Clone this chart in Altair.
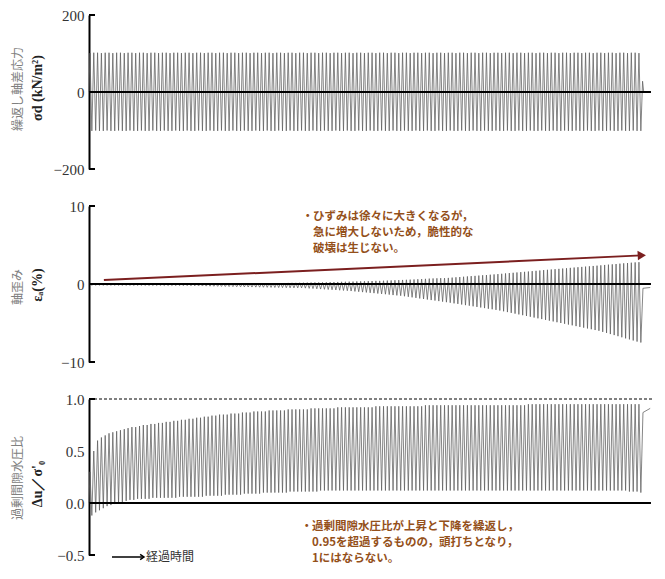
import altair as alt
import pandas as pd

N_CYCLES = 145

stress_max = [
    101,102,102,101,102,102,101,102,102,101,
    102,102,101,102,102,101,102,102,101,102,
    102,101,102,102,101,102,102,101,102,102,
    101,102,102,101,102,102,101,102,102,101,
    102,102,101,102,102,101,102,102,101,102,
    102,101,102,102,101,102,102,101,102,102,
    101,102,102,101,102,102,101,102,102,101,
    102,102,101,102,102,101,102,102,101,102,
    102,101,102,102,101,102,102,101,102,102,
    101,102,102,101,102,102,101,102,102,101,
    102,102,101,102,102,101,102,102,101,102,
    102,101,102,102,101,102,102,101,102,102,
    101,102,102,101,102,102,101,102,102,101,
    102,102,101,102,102,101,102,102,101,102,
    102,101,102,102,101]
stress_min = [
    -101,-100,-101,-101,-100,-101,-101,-100,-101,-101,
    -100,-101,-101,-100,-101,-101,-100,-101,-101,-100,
    -101,-101,-100,-101,-101,-100,-101,-101,-100,-101,
    -101,-100,-101,-101,-100,-101,-101,-100,-101,-101,
    -100,-101,-101,-100,-101,-101,-100,-101,-101,-100,
    -101,-101,-100,-101,-101,-100,-101,-101,-100,-101,
    -101,-100,-101,-101,-100,-101,-101,-100,-101,-101,
    -100,-101,-101,-100,-101,-101,-100,-101,-101,-100,
    -101,-101,-100,-101,-101,-100,-101,-101,-100,-101,
    -101,-100,-101,-101,-100,-101,-101,-100,-101,-101,
    -100,-101,-101,-100,-101,-101,-100,-101,-101,-100,
    -101,-101,-100,-101,-101,-100,-101,-101,-100,-101,
    -101,-100,-101,-101,-100,-101,-101,-100,-101,-101,
    -100,-101,-101,-100,-101,-101,-100,-101,-101,-100,
    -101,-101,-100,-101,-101]
stress_tail_t = [145.2, 145.5]
stress_tail_v = [28, 0]

strain_max = [
    0.00,0.00,0.01,0.01,0.01,0.01,0.02,0.02,0.02,0.02,
    0.02,0.02,0.02,0.03,0.03,0.03,0.03,0.03,0.03,0.03,
    0.03,0.04,0.04,0.04,0.04,0.04,0.04,0.04,0.05,0.05,
    0.05,0.05,0.05,0.05,0.05,0.05,0.05,0.05,0.05,0.05,
    0.05,0.06,0.06,0.07,0.08,0.08,0.09,0.10,0.11,0.12,
    0.12,0.13,0.14,0.15,0.15,0.16,0.17,0.18,0.19,0.20,
    0.20,0.21,0.22,0.24,0.25,0.26,0.28,0.29,0.30,0.31,
    0.33,0.34,0.35,0.37,0.38,0.40,0.40,0.42,0.44,0.46,
    0.48,0.50,0.52,0.54,0.56,0.58,0.61,0.63,0.66,0.69,
    0.71,0.73,0.75,0.75,0.78,0.82,0.86,0.89,0.93,0.97,
    1.01,1.04,1.08,1.12,1.15,1.19,1.23,1.27,1.31,1.36,
    1.40,1.44,1.48,1.52,1.56,1.60,1.65,1.69,1.73,1.78,
    1.82,1.86,1.90,1.94,1.98,2.02,2.07,2.11,2.15,2.19,
    2.23,2.27,2.31,2.35,2.39,2.44,2.48,2.52,2.56,2.61,
    2.65,2.69,2.73,2.77,2.80]
strain_min = [
    -0.15,-0.15,-0.15,-0.16,-0.16,-0.16,-0.16,-0.17,-0.17,-0.17,
    -0.17,-0.18,-0.18,-0.18,-0.18,-0.19,-0.19,-0.19,-0.19,-0.20,
    -0.20,-0.20,-0.21,-0.21,-0.22,-0.22,-0.23,-0.24,-0.25,-0.26,
    -0.27,-0.28,-0.29,-0.30,-0.31,-0.32,-0.33,-0.34,-0.35,-0.36,
    -0.37,-0.38,-0.39,-0.40,-0.41,-0.42,-0.43,-0.44,-0.45,-0.46,
    -0.47,-0.48,-0.49,-0.50,-0.50,-0.50,-0.53,-0.56,-0.59,-0.62,
    -0.65,-0.68,-0.71,-0.74,-0.77,-0.80,-0.83,-0.86,-0.90,-0.95,
    -0.99,-1.04,-1.08,-1.13,-1.17,-1.22,-1.27,-1.31,-1.36,-1.42,
    -1.46,-1.50,-1.57,-1.64,-1.71,-1.78,-1.85,-1.92,-1.99,-2.06,
    -2.12,-2.19,-2.26,-2.33,-2.40,-2.48,-2.55,-2.63,-2.71,-2.78,
    -2.86,-2.94,-3.01,-3.09,-3.17,-3.24,-3.32,-3.40,-3.50,-3.60,
    -3.70,-3.80,-3.90,-4.00,-4.10,-4.20,-4.30,-4.40,-4.50,-4.60,
    -4.70,-4.80,-4.90,-5.00,-5.10,-5.20,-5.30,-5.40,-5.50,-5.60,
    -5.70,-5.80,-5.90,-6.00,-6.14,-6.28,-6.42,-6.55,-6.69,-6.83,
    -6.97,-7.10,-7.24,-7.38,-7.50]
strain_tail_t = [145.3, 147.2]
strain_tail_v = [-0.55, -0.45]

pore_max = [
    0.30,0.50,0.60,0.63,0.65,0.67,0.68,0.69,0.70,0.71,
    0.72,0.73,0.73,0.74,0.75,0.75,0.76,0.76,0.77,0.77,
    0.78,0.78,0.79,0.79,0.80,0.80,0.81,0.81,0.82,0.82,
    0.83,0.83,0.84,0.84,0.85,0.85,0.85,0.86,0.86,0.86,
    0.87,0.87,0.87,0.88,0.88,0.88,0.88,0.89,0.89,0.89,
    0.89,0.89,0.90,0.90,0.90,0.90,0.90,0.90,0.91,0.91,
    0.91,0.91,0.91,0.91,0.91,0.92,0.92,0.92,0.92,0.92,
    0.92,0.92,0.92,0.92,0.92,0.93,0.93,0.93,0.93,0.93,
    0.93,0.93,0.93,0.93,0.93,0.93,0.93,0.93,0.94,0.94,
    0.94,0.94,0.94,0.94,0.94,0.94,0.94,0.94,0.94,0.94,
    0.94,0.94,0.94,0.94,0.94,0.94,0.94,0.94,0.94,0.94,
    0.94,0.94,0.94,0.94,0.94,0.95,0.95,0.95,0.95,0.95,
    0.95,0.95,0.95,0.95,0.95,0.95,0.95,0.95,0.95,0.95,
    0.95,0.95,0.95,0.95,0.95,0.95,0.95,0.95,0.95,0.95,
    0.95,0.95,0.95,0.95,0.95]
pore_min = [
    -0.12,-0.09,-0.07,-0.05,-0.03,-0.02,-0.01,0.00,0.01,0.02,
    0.03,0.03,0.04,0.04,0.04,0.04,0.05,0.05,0.05,0.05,
    0.05,0.05,0.05,0.06,0.06,0.06,0.06,0.06,0.06,0.06,
    0.07,0.07,0.07,0.07,0.07,0.08,0.08,0.08,0.08,0.08,
    0.09,0.09,0.09,0.09,0.09,0.10,0.10,0.10,0.10,0.10,
    0.10,0.10,0.11,0.11,0.11,0.11,0.11,0.11,0.11,0.11,
    0.12,0.12,0.12,0.12,0.12,0.12,0.12,0.12,0.12,0.12,
    0.12,0.12,0.12,0.12,0.12,0.12,0.12,0.12,0.12,0.12,
    0.12,0.12,0.12,0.12,0.12,0.12,0.12,0.12,0.12,0.12,
    0.12,0.12,0.12,0.12,0.12,0.12,0.12,0.12,0.12,0.12,
    0.12,0.12,0.12,0.12,0.12,0.12,0.12,0.12,0.12,0.12,
    0.12,0.12,0.12,0.12,0.12,0.12,0.12,0.12,0.12,0.12,
    0.12,0.12,0.12,0.12,0.12,0.12,0.12,0.12,0.12,0.12,
    0.12,0.12,0.12,0.12,0.12,0.12,0.12,0.12,0.12,0.12,
    0.12,0.11,0.11,0.11,0.10]
pore_tail_t = [145.3, 147.2]
pore_tail_v = [0.87, 0.91]

# annotation arrow in strain panel (cycle, strain %)
arrow_t = [3.9, 145.0]
arrow_v = [0.5, 3.67]

note_strain_first = "ひずみは徐々に大きくなるが，"
note_strain_rest = ["急に増大しないため，脆性的な", "破壊は生じない。"]
note_pore_first = "過剰間隙水圧比が上昇と下降を繰返し，"
note_pore_rest = ["0.95を超過するものの，頭打ちとなり，", "1にはならない。"]

H1, H2, H3 = 154, 156, 156
GAP = 37
W = 565
X_MAX = W / 3.8125
SIG = "#5e5e5e"
NOTE = "#94501a"
SERIF = "Liberation Serif"
JP = "Noto Sans CJK JP"
NOTE_FS = 11.5


def zigzag(mx, mn, tt, tv):
    rows = [{"t": 0.0, "v": 0.0}]
    for i, (a, b) in enumerate(zip(mx, mn)):
        rows.append({"t": i + 0.25, "v": a})
        rows.append({"t": i + 0.75, "v": b})
    for t, v in zip(tt, tv):
        rows.append({"t": t, "v": v})
    return pd.DataFrame(rows)


def panel(df, dom, ticks, fmt, h, titles, title_cy):
    xs = alt.Scale(domain=[0, X_MAX], nice=False, zero=False)
    ys = alt.Scale(domain=dom, nice=False, zero=False)
    line = alt.Chart(df).mark_line(color=SIG, strokeWidth=0.75).encode(
        x=alt.X("t:Q", scale=xs, axis=None),
        y=alt.Y("v:Q", scale=ys, title=None,
                axis=alt.Axis(values=ticks, format=fmt, ticks=False, grid=False,
                              domainColor="black", domainWidth=2, labelOverlap=False,
                              labelFont=SERIF, labelFontSize=15, labelColor="#333",
                              labelPadding=5, labelFlush=False)),
        order="t:Q")
    zero = alt.Chart(pd.DataFrame({"t": [0.0], "t2": [147.4], "v": [0.0]})).mark_rule(
        color="black", strokeWidth=2).encode(x=alt.X("t:Q", scale=xs), x2="t2", y=alt.Y("v:Q", scale=ys))
    stub_top = alt.Chart(pd.DataFrame({"a": [0]})).mark_rule(color="black", strokeWidth=2).encode(
        x=alt.value(0), x2=alt.value(6), y=alt.value(0))
    stub_bot = alt.Chart(pd.DataFrame({"a": [0]})).mark_rule(color="black", strokeWidth=2).encode(
        x=alt.value(0), x2=alt.value(6), y=alt.value(h))
    t1 = alt.Chart(pd.DataFrame({"s": [titles[0]]})).mark_text(
        angle=270, font=JP, fontSize=12, color="#808080").encode(
        text="s:N", x=alt.value(-71), y=alt.value(title_cy[0]))
    t2 = alt.Chart(pd.DataFrame({"s": [titles[1]]})).mark_text(
        angle=270, font=SERIF, fontSize=14, fontWeight="bold", color="#222").encode(
        text="s:N", x=alt.value(-51), y=alt.value(title_cy[1]))
    return [line, zero, stub_top, stub_bot, t1, t2], xs, ys


def note(first, rest, x0, ys_):
    bullet = alt.Chart(pd.DataFrame({"s": ["・"]})).mark_text(
        align="left", baseline="middle", font=JP, fontSize=NOTE_FS, fontWeight="bold", color=NOTE).encode(
        text="s:N", x=alt.value(x0), y=alt.value(ys_[0]))
    l1 = alt.Chart(pd.DataFrame({"s": [first]})).mark_text(
        align="left", baseline="middle", font=JP, fontSize=NOTE_FS, fontWeight="bold", color=NOTE).encode(
        text="s:N", x=alt.value(x0 + 11), y=alt.value(ys_[0]))
    lr = alt.Chart(pd.DataFrame({"s": rest, "dy": ys_[1:]})).mark_text(
        align="left", baseline="middle", font=JP, fontSize=NOTE_FS, fontWeight="bold", color=NOTE).encode(
        text="s:N", x=alt.value(x0 + 11), y=alt.Y("dy:Q", scale=None))
    return [bullet, l1, lr]


# top panel
layers1, xs1, ys1 = panel(zigzag(stress_max, stress_min, stress_tail_t, stress_tail_v),
                          [-200, 200], [-200, -100, 0, 100, 200], "d", H1,
                          ["繰返し軸差応力", "σd (kN/m²)"], [74, 73])
p1 = alt.layer(*layers1).properties(width=W, height=H1)

# middle panel
layers2, xs2, ys2 = panel(zigzag(strain_max, strain_min, strain_tail_t, strain_tail_v),
                          [-10, 10], [-10, -5, 0, 5, 10], "d", H2,
                          ["軸歪み", "εₐ(%)"], [81, 79])
arr_df = pd.DataFrame({"t": [arrow_t[0]], "t2": [arrow_t[1]], "v": [arrow_v[0]], "v2": [arrow_v[1]]})
arrow_line = alt.Chart(arr_df).mark_rule(color="#7b1f1f", strokeWidth=2).encode(
    x=alt.X("t:Q", scale=xs2), x2="t2", y=alt.Y("v:Q", scale=ys2), y2="v2")
arrow_head = alt.Chart(pd.DataFrame({"t": [arrow_t[1]], "v": [arrow_v[1]]})).mark_point(
    shape="triangle-right", filled=True, size=90, angle=357, color="#7b1f1f", opacity=1).encode(
    x=alt.X("t:Q", scale=xs2), y=alt.Y("v:Q", scale=ys2))
note1 = note(note_strain_first, note_strain_rest, 213, [11, 27, 43])
p2 = alt.layer(*layers2, arrow_line, arrow_head, *note1).properties(width=W, height=H2)

# bottom panel
layers3, xs3, ys3 = panel(zigzag(pore_max, pore_min, pore_tail_t, pore_tail_v),
                          [-0.5, 1.0], [-0.5, 0.0, 0.5, 1.0], ".1f", H3,
                          ["過剰間隙水圧比", "Δu／σ'₀"], [79, 85])
dash = alt.Chart(pd.DataFrame({"v": [1.0]})).mark_rule(
    color="black", strokeWidth=1, strokeDash=[3, 2]).encode(
    y=alt.Y("v:Q", scale=ys3), x=alt.value(0), x2=alt.value(W))
note2 = note(note_pore_first, note_pore_rest, 212, [128, 144, 160])
time_arrow = alt.Chart(pd.DataFrame({"a": [0]})).mark_rule(color="black", strokeWidth=1.5).encode(
    x=alt.value(23), x2=alt.value(54), y=alt.value(158))
time_head = alt.Chart(pd.DataFrame({"a": [0]})).mark_point(
    shape="M-1,-0.7L0,0L-1,0.7", size=60, color="black", strokeWidth=1.5, filled=False, opacity=1).encode(
    x=alt.value(55), y=alt.value(158))
time_text = alt.Chart(pd.DataFrame({"s": ["経過時間"]})).mark_text(
    align="left", baseline="middle", font=JP, fontSize=12, color="#333").encode(
    text="s:N", x=alt.value(57), y=alt.value(158))
p3 = alt.layer(*layers3, dash, *note2, time_arrow, time_head, time_text).properties(width=W, height=H3)

chart = alt.vconcat(p1, p2, p3, spacing=GAP, bounds="flush").properties(
    padding={"left": 4, "top": 0, "right": 0, "bottom": 0}
).configure_view(stroke=None)

chart.save("out.html", embed_options={"renderer": "svg", "actions": False})
